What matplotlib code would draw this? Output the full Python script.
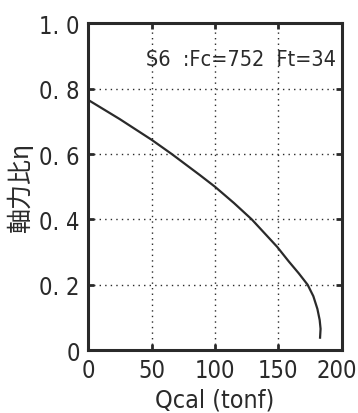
import matplotlib
matplotlib.use("Agg")
import matplotlib.pyplot as plt
from matplotlib.transforms import ScaledTranslation

# values
q_cal = [0, 25, 50, 66, 88, 100, 115, 129, 149, 158, 166, 173, 177.5, 180.7, 182.5, 183.2, 182.8]
n_ratio = [0.766, 0.707, 0.644, 0.60, 0.536, 0.50, 0.45, 0.40, 0.316, 0.272, 0.235, 0.20, 0.165, 0.126, 0.092, 0.065, 0.038]

x_ticks = [0, 50, 100, 150, 200]
y_ticks = [0, 0.2, 0.4, 0.6, 0.8, 1.0]
y_tick_labels = ["0", "0. 2", "0. 4", "0. 6", "0. 8", "1. 0"]

ink = "#2a2a2a"
tick_font = dict(family="DejaVu Sans", stretch="condensed", size=17)

fig = plt.figure(figsize=(3.58, 4.14), dpi=100)
ax = fig.add_axes([0.246, 0.152, 0.709, 0.789])

ax.plot(q_cal, n_ratio, color=ink, lw=1.6)

ax.set_xlim(0, 200)
ax.set_ylim(0, 1.0)
ax.set_xticks(x_ticks)
ax.set_yticks(y_ticks)
ax.set_xticklabels([str(t) for t in x_ticks], fontdict=tick_font, color=ink)
ax.set_yticklabels(y_tick_labels, fontdict=tick_font, color=ink)
ax.tick_params(direction="in", length=4, width=2, color=ink, top=True, right=True, pad=6)
ax.grid(True, ls=(0, (1, 3)), color=ink, lw=1)

# last x label sits a little left of the right spine, as in the scan
last = ax.get_xticklabels()[-1]
last.set_transform(last.get_transform() + ScaledTranslation(-5 / 100, 0, fig.dpi_scale_trans))

for s in ax.spines.values():
    s.set_linewidth(2.2)
    s.set_color(ink)

ax.text(0.975, 0.89, "S6  :Fc=752  Ft=34", transform=ax.transAxes, ha="right", va="center",
        family="DejaVu Sans", stretch="condensed", size=15.5, color=ink)

ax.set_xlabel("Qcal (tonf)", family="DejaVu Sans", stretch="condensed", size=18, color=ink, labelpad=4)
ax.set_ylabel("軸力比η", family=["Noto Sans CJK JP", "DejaVu Sans"], size=18, color=ink, labelpad=4)

fig.savefig("out.png", dpi=100)
